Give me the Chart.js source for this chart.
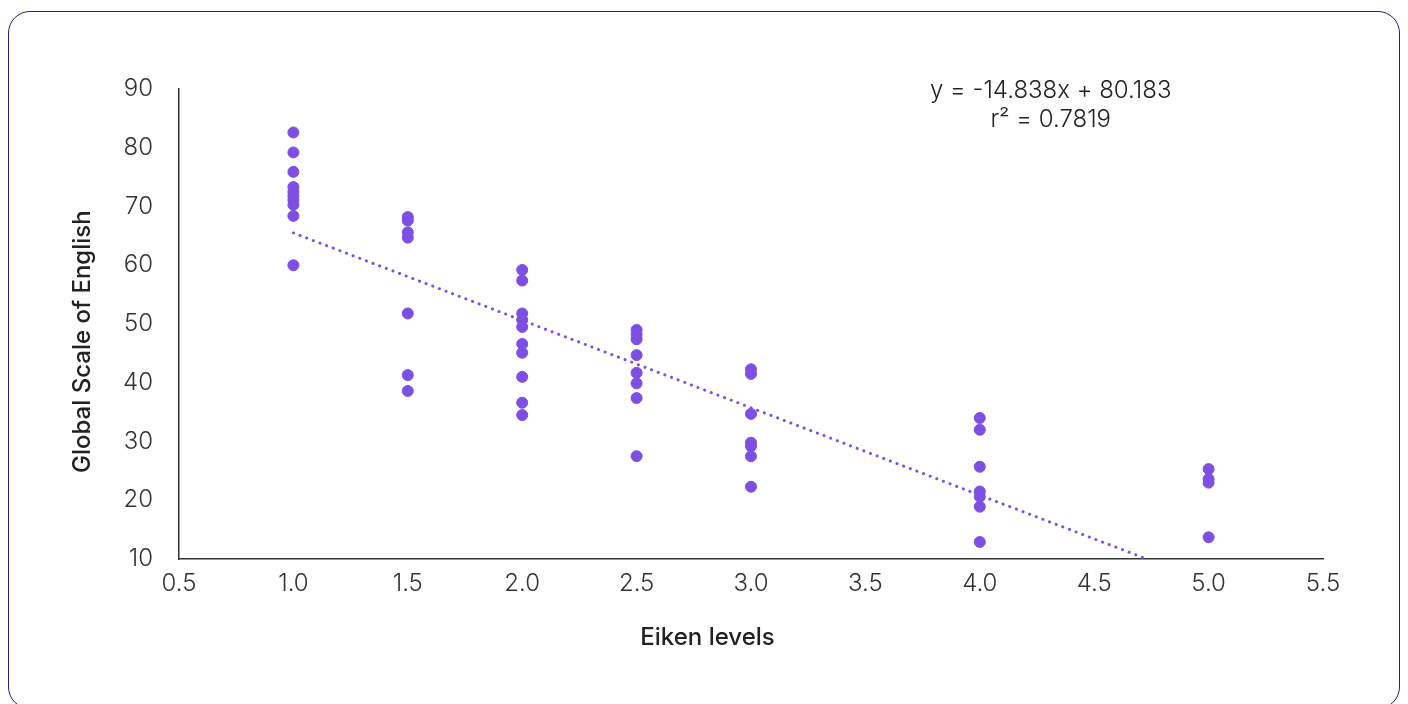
<!DOCTYPE html>
<html>
<head>
<meta charset="utf-8">
<script src="https://cdn.jsdelivr.net/npm/chart.js@4"></script>
<style>
  html, body { margin: 0; padding: 0; background: #fff; overflow: hidden; }
  #wrap { position: relative; width: 1408px; height: 704px; }
  #frame { position: absolute; left: 8px; top: 11px; width: 1392px; height: 698px;
           border: 1.5px solid #2a2270; border-radius: 22px; box-sizing: border-box; }
  canvas { position: absolute; left: 0; top: 0; }
</style>
</head>
<body>
<div id="wrap">
  <div id="frame"></div>
  <canvas id="grafik" width="1408" height="704"></canvas>
</div>
<script>
// eiken level per point and the GSE score
const eikenLevels = [
  1.0, 1.0, 1.0, 1.0, 1.0, 1.0, 1.0, 1.0, 1.0, 1.0,
  1.5, 1.5, 1.5, 1.5, 1.5, 1.5, 1.5,
  2.0, 2.0, 2.0, 2.0, 2.0, 2.0, 2.0, 2.0, 2.0, 2.0,
  2.5, 2.5, 2.5, 2.5, 2.5, 2.5, 2.5, 2.5,
  3.0, 3.0, 3.0, 3.0, 3.0, 3.0, 3.0,
  4.0, 4.0, 4.0, 4.0, 4.0, 4.0, 4.0,
  5.0, 5.0, 5.0, 5.0
];
const gseScores = [
  82.6, 79.2, 75.9, 73.3, 72.5, 71.8, 71.1, 70.3, 68.4, 60.0,
  68.2, 67.6, 65.6, 64.7, 51.8, 41.3, 38.6,
  59.2, 57.4, 51.8, 50.7, 49.5, 46.6, 45.1, 41.0, 36.6, 34.5,
  49.0, 48.2, 47.4, 44.7, 41.7, 39.9, 37.4, 27.5,
  42.3, 41.5, 34.7, 29.8, 29.2, 27.5, 22.3,
  34.0, 32.0, 25.7, 21.5, 20.6, 18.9, 12.9,
  25.3, 23.6, 23.0, 13.7
];
// trend line ends
const trendX = [1.0, 4.73];
const trendY = [65.5, 10.0];
const equationLines = ["y = -14.838x + 80.183", "r\u00B2 = 0.7819"];
const xTitle = "Eiken levels";
const yTitle = "Global Scale of English";

const ungu = "#7d4fe2";
const fontFam = "Inter, 'Open Sans', sans-serif";

const titikData = eikenLevels.map((x, i) => ({ x: x, y: gseScores[i] }));
const trendData = trendX.map((x, i) => ({ x: x, y: trendY[i] }));

// equation text and both axis titles (they sit off the plot centre in the original)
const teksPlugin = {
  id: "teks",
  afterDraw(chart) {
    const ctx = chart.ctx;
    const xs = chart.scales.x;
    const ys = chart.scales.y;
    const area = chart.chartArea;
    ctx.save();
    ctx.fillStyle = "#222";
    ctx.textAlign = "center";
    ctx.textBaseline = "middle";
    ctx.font = "300 24px " + fontFam;
    const cx = xs.getPixelForValue(4.31);
    ctx.fillText(equationLines[0], cx, area.top + 2);
    ctx.fillText(equationLines[1], cx, area.top + 31);
    ctx.font = "500 24px " + fontFam;
    ctx.fillText(xTitle, xs.getPixelForValue(2.81), area.bottom + 79);
    ctx.translate(83, ys.getPixelForValue(47));
    ctx.rotate(-Math.PI / 2);
    ctx.fillText(yTitle, 0, 0);
    ctx.restore();
  }
};

new Chart(document.getElementById("grafik").getContext("2d"), {
  type: "scatter",
  data: {
    datasets: [
      {
        label: "Trend",
        type: "line",
        data: trendData,
        borderColor: ungu,
        borderWidth: 3,
        borderDash: [0.1, 7],
        borderCapStyle: "round",
        pointRadius: 0,
        fill: false
      },
      {
        label: "GSE",
        data: titikData,
        backgroundColor: ungu,
        borderColor: ungu,
        pointRadius: 5.5,
        pointHoverRadius: 5.5
      }
    ]
  },
  options: {
    responsive: false,
    animation: false,
    layout: { padding: { top: 89, right: 85, bottom: 50, left: 69 } },
    plugins: { legend: { display: false }, tooltip: { enabled: false } },
    scales: {
      x: {
        type: "linear",
        min: 0.5, max: 5.5,
        grid: { display: false, drawTicks: false },
        border: { display: true, color: "#333", width: 1.5 },
        ticks: {
          stepSize: 0.5, padding: 10, color: "#333",
          font: { family: fontFam, size: 24, weight: "300" },
          callback: v => Number(v).toFixed(1)
        },
        afterFit: s => { s.height = 95; }
      },
      y: {
        min: 10, max: 90,
        grid: { display: false, drawTicks: false },
        border: { display: true, color: "#333", width: 1.5 },
        ticks: {
          stepSize: 10, padding: 26, color: "#333",
          font: { family: fontFam, size: 24, weight: "300" }
        },
        afterFit: s => { s.width = 110; }
      }
    }
  },
  plugins: [teksPlugin]
});
</script>
</body>
</html>
